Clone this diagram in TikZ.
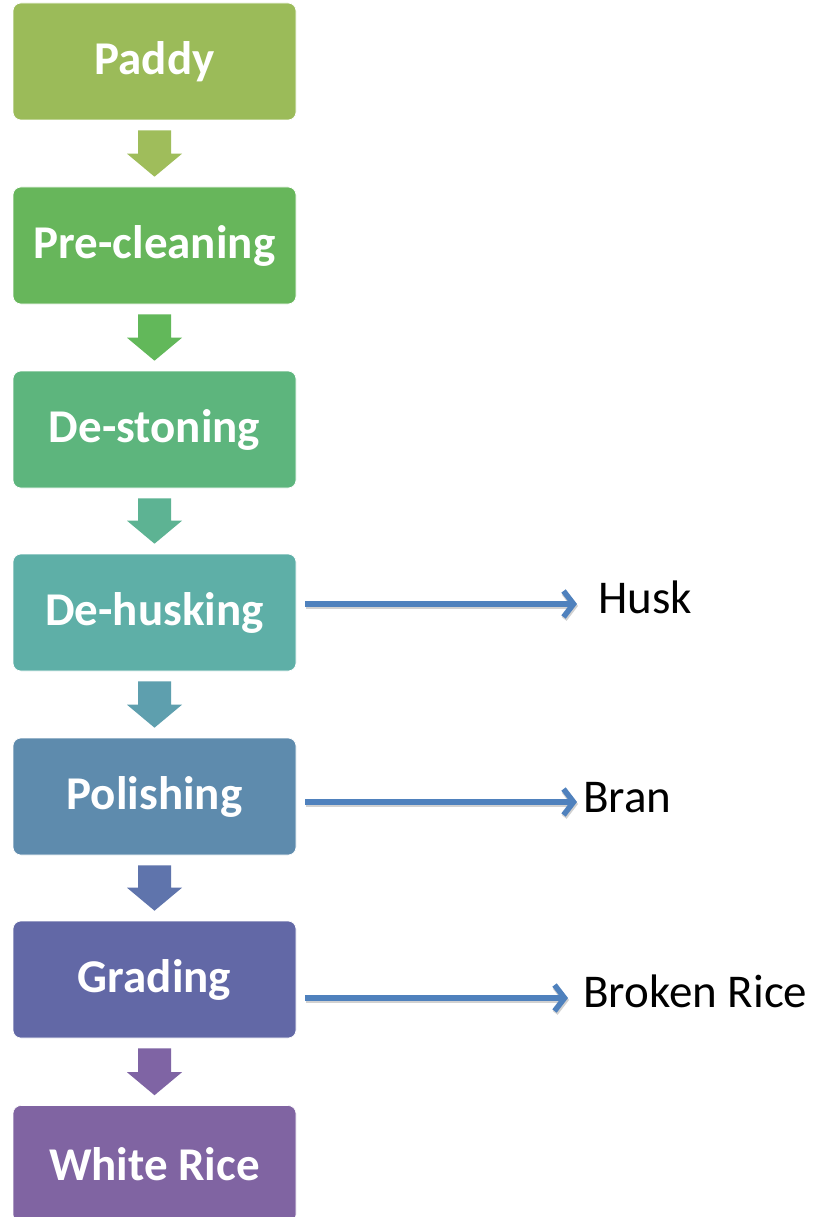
\documentclass[tikz,border=0pt]{standalone}
\usepackage{fontspec}
\setmainfont{Carlito}
\usetikzlibrary{calc,arrows.meta}
\definecolor{c1}{HTML}{9BBB59}
\definecolor{c2}{HTML}{67B65B}
\definecolor{c3}{HTML}{5DB57D}
\definecolor{c4}{HTML}{5EAFA7}
\definecolor{c5}{HTML}{5E8BAD}
\definecolor{c6}{HTML}{6268A6}
\definecolor{c7}{HTML}{8064A2}
\definecolor{a1}{HTML}{9FBD5B}
\definecolor{a2}{HTML}{62B85A}
\definecolor{a3}{HTML}{5DB393}
\definecolor{a4}{HTML}{5E9FAE}
\definecolor{a5}{HTML}{5F74AC}
\definecolor{a6}{HTML}{7F64A4}
\definecolor{lineblue}{HTML}{4F81BD}
\tikzset{
  box/.style={rounded corners=8pt, minimum width=283pt, minimum height=117pt, inner sep=0pt,
    text=white, font=\fontsize{47}{50}\selectfont\bfseries, draw=white, line width=0.6pt},
  lbl/.style={inner sep=0pt, anchor=base west, font=\fontsize{47}{50}\selectfont, text=black},
  side/.style={draw=lineblue, line width=5.5pt, -{Straight Barb[length=10pt,width=26pt,line width=5.5pt]}},
  sideshadow/.style={draw=black, opacity=0.18, line width=6pt, -{Straight Barb[length=10pt,width=26pt,line width=6pt]}, transform canvas={shift={(1pt,-2pt)}}},
}
\newcommand{\blockarrow}[3]{%
  \fill[#3] let \p1=($(#1.south)+(0,-10pt)$), \p2=($(#2.north)+(0,10pt)$) in
    (\x1-16.5pt,\y1) -- (\x1+16.5pt,\y1) -- (\x1+16.5pt,\y2+23pt) -- (\x1+27.5pt,\y2+23pt)
    -- (\x1,\y2) -- (\x1-27.5pt,\y2+23pt) -- (\x1-16.5pt,\y2+23pt) -- cycle;}
\begin{document}
\begin{tikzpicture}[x=1pt,y=-1pt]
\clip (0,0) rectangle (817,1217);
\fill[white] (0,0) rectangle (817,1217);
\node[box, fill=c1] (b1) at (154.5,61.5) {Paddy};
\node[box, fill=c2] (b2) at (154.5,245.5) {Pre-cleaning};
\node[box, fill=c3] (b3) at (154.5,429.5) {De-stoning};
\node[box, fill=c4] (b4) at (154.5,612.5) {De-husking};
\node[box, fill=c5] (b5) at (154.5,796.5) {Polishing};
\node[box, fill=c6] (b6) at (154.5,979.5) {Grading};
\node[box, fill=c7] (b7) at (154.5,1164) {White Rice};
\blockarrow{b1}{b2}{a1}
\blockarrow{b2}{b3}{a2}
\blockarrow{b3}{b4}{a3}
\blockarrow{b4}{b5}{a4}
\blockarrow{b5}{b6}{a5}
\blockarrow{b6}{b7}{a6}
\node[lbl] (husk) at (598,613) {Husk};
\node[lbl] (bran) at (583,812) {Bran};
\node[lbl] (broken) at (583,1007) {Broken Rice};
\coordinate (h0) at (305,604);
\coordinate (h1) at (577,604);
\coordinate (p0) at (305,802);
\coordinate (p1) at (577,802);
\coordinate (g0) at (305,998);
\coordinate (g1) at (568,998);
\draw[sideshadow] (h0) -- (h1);
\draw[sideshadow] (p0) -- (p1);
\draw[sideshadow] (g0) -- (g1);
\draw[side] (h0) -- (h1);
\draw[side] (p0) -- (p1);
\draw[side] (g0) -- (g1);
\end{tikzpicture}
\end{document}
